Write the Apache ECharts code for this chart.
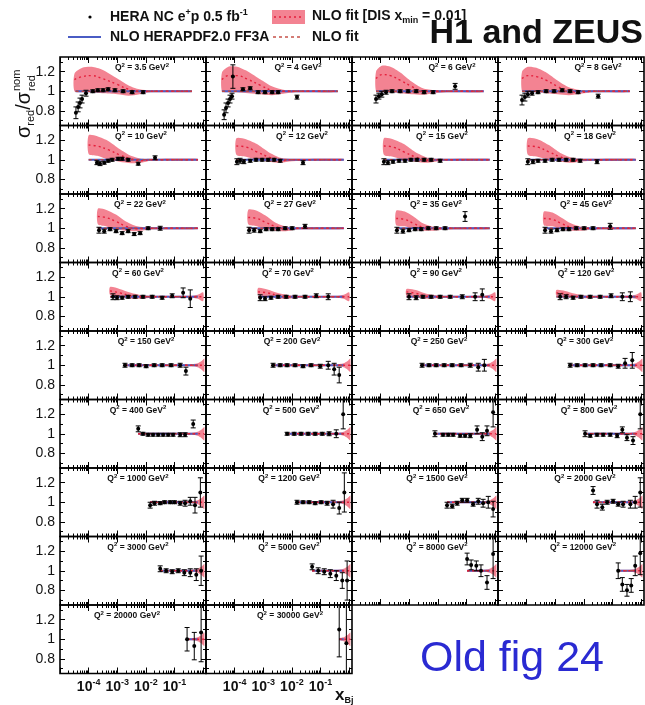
<!DOCTYPE html>
<html><head><meta charset="utf-8">
<script src="https://cdn.jsdelivr.net/npm/echarts@6/dist/echarts.min.js"></script>
<style>html,body{margin:0;padding:0;background:#fff}#c{width:645px;height:705px}</style>
</head><body><div id="c"></div>
<script>
// ---------------- DATA ----------------
const q2Labels = ['3.5','4','6','8','10','12','15','18','22','27','35','45','60','70','90','120',
  '150','200','250','300','400','500','650','800','1000','1200','1500','2000','3000','5000','8000','12000','20000','30000'];

// measured ratio points per panel: [x, ratio, error]
const dataPoints = [
 [[3.6e-5,0.78,0.06],[4.3e-5,0.84,0.05],[5.0e-5,0.88,0.05],[5.9e-5,0.92,0.04],[8.1e-5,0.98,0.03],[1.4e-4,1.0,0.015],[2.1e-4,1.01,0.015],[3.2e-4,1.01,0.015],[4.8e-4,1.02,0.015],[8.3e-4,1.01,0.015],[1.6e-3,1.0,0.015],[3.3e-3,0.99,0.015],[8e-3,0.99,0.015]],
 [[4.3e-5,0.76,0.05],[5.0e-5,0.83,0.05],[5.9e-5,0.88,0.04],[6.9e-5,0.92,0.04],[8.1e-5,0.95,0.03],[8.7e-5,1.15,0.12],[1.95e-4,1.02,0.015],[3.5e-4,1.03,0.015],[6.6e-4,0.99,0.015],[1.15e-3,0.99,0.015],[2.04e-3,0.99,0.015],[3.3e-3,0.99,0.015],[0.0151,0.94,0.02]],
 [[6.9e-5,0.92,0.04],[8.7e-5,0.95,0.03],[1.1e-4,0.97,0.03],[1.55e-4,0.99,0.02],[2.5e-4,1.0,0.015],[4.8e-4,1.0,0.015],[9.1e-4,1.0,0.015],[1.74e-3,1.0,0.015],[3.3e-3,0.99,0.015],[6.8e-3,0.99,0.015],[0.04,1.05,0.03]],
 [[6.9e-5,0.91,0.05],[8.7e-5,0.94,0.04],[1.1e-4,0.97,0.03],[1.55e-4,0.98,0.02],[2.5e-4,0.99,0.015],[4.8e-4,1.0,0.015],[9.1e-4,1.0,0.015],[1.74e-3,1.01,0.015],[3.3e-3,1.0,0.015],[6.3e-3,0.99,0.015],[0.0316,0.95,0.02]],
 [[1.95e-4,0.97,0.02],[2.5e-4,0.96,0.02],[3.5e-4,0.97,0.015],[4.8e-4,0.99,0.015],[6.6e-4,1.0,0.015],[1.07e-3,1.01,0.015],[1.48e-3,1.01,0.015],[2.4e-3,1.0,0.015],[5.4e-3,0.96,0.015],[0.0209,1.02,0.02]],
 [[1.2e-4,0.98,0.03],[1.55e-4,0.99,0.025],[2.1e-4,0.98,0.02],[3.5e-4,0.99,0.015],[5.6e-4,1.0,0.015],[9.1e-4,1.0,0.015],[1.48e-3,1.0,0.015],[2.4e-3,1.0,0.015],[3.9e-3,0.99,0.015],[0.0245,0.97,0.02]],
 [[1.3e-4,0.98,0.03],[1.8e-4,0.97,0.02],[2.7e-4,0.98,0.015],[4.4e-4,0.99,0.015],[7.1e-4,0.99,0.015],[1.15e-3,1.0,0.015],[1.86e-3,1.0,0.015],[3.3e-3,1.0,0.015],[5.8e-3,1.0,0.015],[0.012,0.99,0.015]],
 [[1.1e-4,0.98,0.03],[1.66e-4,0.98,0.02],[2.5e-4,0.99,0.015],[4.4e-4,0.99,0.015],[7.8e-4,1.0,0.015],[1.35e-3,1.0,0.015],[2.4e-3,1.0,0.015],[4.2e-3,1.0,0.015],[7.4e-3,0.99,0.015],[0.0288,0.98,0.02]],
 [[2.3e-4,0.98,0.03],[3.5e-4,0.97,0.02],[5.6e-4,0.99,0.015],[9.1e-4,0.97,0.015],[1.48e-3,0.95,0.015],[2.4e-3,0.97,0.015],[3.9e-3,0.94,0.015],[6.3e-3,0.95,0.015],[0.012,1.0,0.015],[0.0316,1.0,0.02]],
 [[3.2e-4,0.98,0.03],[4.8e-4,0.98,0.02],[7.8e-4,0.97,0.015],[1.26e-3,0.99,0.015],[2.04e-3,0.99,0.015],[3.3e-3,0.99,0.015],[5.8e-3,1.0,0.015],[0.0102,1.0,0.015],[0.0288,1.02,0.02]],
 [[3.7e-4,0.98,0.03],[6e-4,0.97,0.02],[9.8e-4,0.98,0.015],[1.6e-3,0.99,0.015],[2.6e-3,0.99,0.015],[4.6e-3,1.0,0.015],[8.7e-3,1.0,0.015],[0.0178,1.0,0.015],[0.089,1.12,0.05]],
 [[4.4e-4,0.98,0.03],[7.1e-4,0.97,0.02],[1.15e-3,0.98,0.015],[1.86e-3,0.99,0.015],[3e-3,0.99,0.015],[5.4e-3,1.0,0.015],[0.0102,1.0,0.015],[0.0209,1.0,0.015],[0.083,1.02,0.03]],
 [[7.1e-4,1.0,0.03],[9.8e-4,0.99,0.02],[1.48e-3,0.99,0.015],[2.4e-3,1.0,0.015],[4.2e-3,1.0,0.015],[7.9e-3,1.0,0.015],[0.0166,1.0,0.015],[0.037,0.99,0.015],[0.083,1.01,0.02],[0.2,1.04,0.05],[0.355,0.98,0.09]],
 [[7.8e-4,0.99,0.03],[1.15e-3,0.98,0.02],[1.86e-3,0.99,0.015],[3.3e-3,1.0,0.015],[6.3e-3,1.0,0.015],[0.0129,1.0,0.015],[0.0288,1.0,0.015],[0.071,1.01,0.02],[0.186,1.0,0.03]],
 [[9.8e-4,1.0,0.03],[1.74e-3,0.99,0.02],[3e-3,1.0,0.015],[5.8e-3,1.0,0.015],[0.012,1.0,0.015],[0.0269,1.0,0.015],[0.071,1.0,0.02],[0.2,1.0,0.04],[0.355,1.02,0.06]],
 [[1.48e-3,1.0,0.03],[2.4e-3,1.0,0.02],[4.2e-3,0.99,0.015],[7.9e-3,1.0,0.015],[0.0166,1.0,0.015],[0.037,1.0,0.015],[0.089,1.01,0.02],[0.22,1.0,0.04],[0.42,1.0,0.05]],
 [[1.86e-3,1.0,0.02],[3.3e-3,1.0,0.015],[5.8e-3,1.0,0.015],[0.0102,0.99,0.015],[0.0195,1.0,0.015],[0.037,1.0,0.015],[0.076,1.0,0.015],[0.158,1.0,0.02],[0.25,0.94,0.04]],
 [[2.2e-3,1.0,0.02],[3.9e-3,1.0,0.015],[6.8e-3,1.0,0.015],[0.0129,1.0,0.015],[0.0245,0.99,0.015],[0.047,1.0,0.015],[0.098,0.99,0.02],[0.186,1.0,0.04],[0.3,0.96,0.06],[0.45,0.9,0.08]],
 [[2.8e-3,1.0,0.02],[4.9e-3,1.0,0.015],[8.7e-3,1.0,0.015],[0.0166,1.0,0.015],[0.0316,1.0,0.015],[0.065,1.0,0.015],[0.135,1.0,0.02],[0.257,0.98,0.04],[0.42,1.0,0.06]],
 [[3.3e-3,1.0,0.02],[5.8e-3,1.0,0.015],[0.011,1.0,0.015],[0.0209,1.0,0.015],[0.04,1.0,0.015],[0.083,1.0,0.015],[0.158,0.99,0.02],[0.275,1.02,0.05],[0.49,1.05,0.08]],
 [[5.4e-3,1.05,0.03],[7.9e-3,1.0,0.015],[0.012,0.99,0.015],[0.0178,0.99,0.015],[0.0269,0.99,0.015],[0.04,0.99,0.015],[0.06,0.99,0.015],[0.089,0.99,0.015],[0.158,0.99,0.02],[0.234,0.99,0.02],[0.45,1.1,0.04]],
 [[6.8e-3,1.0,0.015],[0.012,1.0,0.015],[0.0209,1.0,0.015],[0.037,1.0,0.015],[0.065,1.0,0.015],[0.115,1.0,0.015],[0.2,1.0,0.02],[0.355,1.0,0.04],[0.62,1.2,0.15]],
 [[7.9e-3,1.0,0.03],[0.0151,0.99,0.015],[0.023,0.99,0.015],[0.034,0.99,0.015],[0.06,0.98,0.015],[0.089,0.98,0.015],[0.135,0.98,0.02],[0.234,1.04,0.04],[0.355,0.97,0.04],[0.52,1.03,0.05],[0.85,1.22,0.15]],
 [[0.011,1.0,0.03],[0.0166,0.98,0.015],[0.0288,0.99,0.015],[0.047,0.99,0.015],[0.083,0.99,0.015],[0.145,0.98,0.02],[0.22,1.04,0.03],[0.32,0.96,0.03],[0.52,0.93,0.04],[0.93,1.2,0.15]],
 [[0.0141,0.97,0.03],[0.02,0.99,0.02],[0.0316,0.99,0.015],[0.045,1.0,0.015],[0.071,1.0,0.015],[0.1,1.0,0.015],[0.158,0.99,0.02],[0.234,0.99,0.03],[0.355,1.01,0.04],[0.52,0.97,0.08],[0.8,1.1,0.15]],
 [[0.0151,1.0,0.02],[0.0245,1.0,0.015],[0.04,1.0,0.015],[0.065,0.99,0.015],[0.105,1.0,0.015],[0.17,0.99,0.02],[0.275,0.98,0.04],[0.45,0.94,0.06],[0.68,1.1,0.2]],
 [[0.0209,0.97,0.03],[0.0316,0.96,0.02],[0.047,0.99,0.02],[0.071,1.02,0.02],[0.105,1.02,0.02],[0.17,0.98,0.02],[0.257,1.01,0.03],[0.38,0.99,0.04],[0.575,1.0,0.06],[0.85,0.93,0.08]],
 [[0.0209,1.12,0.04],[0.0288,0.98,0.04],[0.044,0.95,0.03],[0.065,1.0,0.02],[0.105,1.01,0.02],[0.158,0.98,0.02],[0.234,0.98,0.03],[0.42,0.98,0.04],[0.62,1.0,0.06],[0.93,1.1,0.15]],
 [[0.0316,1.02,0.03],[0.051,1.0,0.02],[0.083,0.99,0.02],[0.135,1.0,0.02],[0.22,0.98,0.03],[0.355,0.98,0.04],[0.575,0.96,0.06],[0.85,1.0,0.15]],
 [[0.051,1.04,0.03],[0.083,1.0,0.03],[0.135,0.99,0.03],[0.22,0.97,0.04],[0.355,0.95,0.05],[0.575,0.9,0.08],[0.85,0.9,0.2]],
 [[0.105,1.12,0.06],[0.145,1.06,0.05],[0.22,1.05,0.05],[0.32,1.0,0.06],[0.52,0.88,0.07],[0.85,1.17,0.25]],
 [[0.158,1.0,0.08],[0.22,0.86,0.07],[0.32,0.8,0.06],[0.45,0.85,0.07],[0.62,1.05,0.1],[0.93,1.18,0.22]],
 [[0.275,1.0,0.12],[0.49,0.93,0.14],[0.85,1.07,0.3]],
 [[0.45,1.1,0.28],[0.8,0.96,0.4]]
];

// NLO fit [DIS xmin = 0.01] band per panel: [x, lower, upper, central]
const fitBand = [
 [[3.2e-5,1.0,1.18,1.12],[6e-5,0.99,1.24,1.15],[1.3e-4,0.99,1.25,1.16],[3e-4,0.98,1.22,1.13],[1e-3,0.97,1.13,1.07],[2.5e-3,0.955,1.06,1.02],[6e-3,0.97,1.02,1.0],[0.015,0.99,1.01,1.0],[0.4,0.99,1.01,1.0]],
 [[3.6e-5,1.0,1.19,1.12],[6e-5,0.99,1.25,1.16],[1.2e-4,0.99,1.25,1.16],[3e-4,0.98,1.2,1.12],[8e-4,0.97,1.12,1.06],[2e-3,0.96,1.05,1.01],[5e-3,0.975,1.015,1.0],[0.015,0.99,1.01,1.0],[0.4,0.99,1.01,1.0]],
 [[6.9e-5,1.0,1.2,1.13],[1.1e-4,0.99,1.26,1.17],[2.2e-4,0.99,1.25,1.16],[5e-4,0.98,1.19,1.11],[1.2e-3,0.97,1.1,1.05],[3e-3,0.965,1.03,1.0],[8e-3,0.98,1.01,1.0],[0.02,0.99,1.01,1.0],[0.4,0.99,1.01,1.0]],
 [[6.9e-5,1.0,1.2,1.13],[1.1e-4,0.99,1.25,1.16],[2.2e-4,0.99,1.24,1.15],[5e-4,0.98,1.19,1.11],[1.2e-3,0.97,1.11,1.05],[3e-3,0.96,1.04,1.0],[8e-3,0.975,1.01,0.99],[0.02,0.99,1.01,1.0],[0.4,0.99,1.01,1.0]],
 [[1e-4,1.06,1.25,1.15],[2e-4,1.04,1.24,1.14],[5e-4,1.0,1.19,1.1],[1.2e-3,0.98,1.11,1.05],[3e-3,0.965,1.04,1.01],[7e-3,0.97,1.01,0.99],[0.015,0.99,1.01,1.0],[0.65,0.99,1.01,1.0]],
 [[1.15e-4,1.05,1.22,1.14],[2.5e-4,1.03,1.21,1.13],[6e-4,1.0,1.16,1.08],[1.5e-3,0.98,1.08,1.03],[4e-3,0.97,1.02,0.99],[0.01,0.985,1.01,1.0],[0.65,0.99,1.01,1.0]],
 [[1.3e-4,1.05,1.22,1.14],[2.7e-4,1.03,1.21,1.13],[6.5e-4,1.0,1.16,1.08],[1.6e-3,0.98,1.08,1.03],[4.5e-3,0.97,1.02,0.99],[0.011,0.985,1.01,1.0],[0.65,0.99,1.01,1.0]],
 [[1.1e-4,1.05,1.22,1.14],[2.4e-4,1.03,1.21,1.13],[6e-4,1.0,1.15,1.08],[1.5e-3,0.98,1.07,1.03],[4e-3,0.97,1.02,0.99],[0.01,0.985,1.01,1.0],[0.65,0.99,1.01,1.0]],
 [[2.1e-4,1.04,1.2,1.12],[4e-4,1.02,1.19,1.11],[9e-4,0.99,1.14,1.07],[2e-3,0.975,1.07,1.02],[5e-3,0.97,1.02,0.995],[0.012,0.985,1.01,1.0],[0.65,0.99,1.01,1.0]],
 [[3e-4,1.04,1.19,1.11],[6e-4,1.02,1.18,1.1],[1.2e-3,0.99,1.13,1.06],[2.6e-3,0.975,1.06,1.02],[6e-3,0.97,1.02,0.995],[0.014,0.985,1.01,1.0],[0.65,0.99,1.01,1.0]],
 [[3.5e-4,1.03,1.18,1.1],[7e-4,1.02,1.17,1.09],[1.4e-3,0.99,1.12,1.05],[3e-3,0.975,1.05,1.01],[7e-3,0.975,1.015,0.995],[0.015,0.985,1.01,1.0],[0.65,0.99,1.01,1.0]],
 [[4e-4,1.03,1.17,1.1],[8e-4,1.02,1.16,1.09],[1.6e-3,0.99,1.11,1.05],[3.5e-3,0.975,1.05,1.01],[8e-3,0.975,1.015,0.995],[0.017,0.985,1.01,1.0],[0.65,0.99,1.01,1.0]],
 [[5.6e-4,1.02,1.1,1.06],[1.2e-3,1.0,1.08,1.04],[3e-3,0.98,1.04,1.01],[7e-3,0.98,1.015,1.0],[0.015,0.99,1.01,1.0],[0.35,0.99,1.01,1.0],[0.65,0.98,1.02,1.0],[1.0,0.955,1.045,1.0]],
 [[6.6e-4,1.02,1.09,1.05],[1.4e-3,1.0,1.075,1.04],[3.5e-3,0.98,1.035,1.01],[8e-3,0.98,1.015,1.0],[0.017,0.99,1.01,1.0],[0.35,0.99,1.01,1.0],[0.65,0.98,1.02,1.0],[1.0,0.955,1.045,1.0]],
 [[8e-4,1.01,1.08,1.05],[1.7e-3,1.0,1.07,1.035],[4e-3,0.98,1.03,1.005],[9e-3,0.985,1.015,1.0],[0.02,0.99,1.01,1.0],[0.35,0.99,1.01,1.0],[0.65,0.98,1.02,1.0],[1.0,0.955,1.045,1.0]],
 [[1.1e-3,1.01,1.07,1.04],[2.2e-3,1.0,1.06,1.03],[5e-3,0.985,1.03,1.005],[0.011,0.985,1.012,1.0],[0.025,0.99,1.01,1.0],[0.35,0.99,1.01,1.0],[0.65,0.98,1.02,1.0],[1.0,0.955,1.045,1.0]],
 [[1.86e-3,0.99,1.01,1],[0.4,0.99,1.01,1],[0.65,0.98,1.02,1],[0.85,0.96,1.04,1],[1.1,0.93,1.07,1]],
 [[2.2e-3,0.99,1.01,1],[0.4,0.99,1.01,1],[0.65,0.98,1.02,1],[0.85,0.96,1.04,1],[1.1,0.93,1.07,1]],
 [[2.8e-3,0.99,1.01,1],[0.4,0.99,1.01,1],[0.65,0.98,1.02,1],[0.85,0.96,1.04,1],[1.1,0.93,1.07,1]],
 [[3.3e-3,0.99,1.01,1],[0.4,0.99,1.01,1],[0.65,0.98,1.02,1],[0.85,0.96,1.04,1],[1.1,0.93,1.07,1]],
 [[5.4e-3,0.99,1.01,1],[0.4,0.99,1.01,1],[0.65,0.98,1.02,1],[0.85,0.96,1.04,1],[1.1,0.93,1.07,1]],
 [[6.8e-3,0.99,1.01,1],[0.4,0.99,1.01,1],[0.65,0.98,1.02,1],[0.85,0.96,1.04,1],[1.1,0.93,1.07,1]],
 [[7.9e-3,0.99,1.01,1],[0.4,0.99,1.01,1],[0.65,0.98,1.02,1],[0.85,0.96,1.04,1],[1.1,0.93,1.07,1]],
 [[0.011,0.99,1.01,1],[0.4,0.99,1.01,1],[0.65,0.98,1.02,1],[0.85,0.96,1.04,1],[1.1,0.93,1.07,1]],
 [[0.0141,0.99,1.01,1],[0.4,0.99,1.01,1],[0.65,0.98,1.02,1],[0.85,0.96,1.04,1],[1.1,0.93,1.07,1]],
 [[0.0151,0.99,1.01,1],[0.4,0.99,1.01,1],[0.65,0.98,1.02,1],[0.85,0.96,1.04,1],[1.1,0.93,1.07,1]],
 [[0.0209,0.99,1.01,1],[0.4,0.99,1.01,1],[0.65,0.98,1.02,1],[0.85,0.96,1.04,1],[1.1,0.93,1.07,1]],
 [[0.0209,0.99,1.01,1],[0.4,0.99,1.01,1],[0.65,0.98,1.02,1],[0.85,0.96,1.04,1],[1.1,0.93,1.07,1]],
 [[0.0316,0.99,1.01,1],[0.4,0.99,1.01,1],[0.65,0.98,1.02,1],[0.85,0.96,1.04,1],[1.1,0.93,1.07,1]],
 [[0.051,0.99,1.01,1],[0.4,0.99,1.01,1],[0.65,0.98,1.02,1],[0.85,0.96,1.04,1],[1.1,0.93,1.07,1]],
 [[0.105,0.99,1.01,1],[0.4,0.99,1.01,1],[0.65,0.98,1.02,1],[0.85,0.96,1.04,1],[1.1,0.93,1.07,1]],
 [[0.158,0.99,1.01,1],[0.4,0.99,1.01,1],[0.65,0.98,1.02,1],[0.85,0.96,1.04,1],[1.1,0.93,1.07,1]],
 [[0.275,0.99,1.01,1],[0.4,0.99,1.01,1],[0.65,0.98,1.02,1],[0.85,0.96,1.04,1],[1.1,0.93,1.07,1]],
 [[0.45,0.99,1.01,1],[0.65,0.98,1.02,1],[0.85,0.96,1.04,1],[1.1,0.93,1.07,1]]
];

// x-range of the NLO HERAPDF2.0 FF3A and NLO fit curves (ratio 1)
const lineRange = [
 [3.5e-5,0.4],[3.6e-5,0.4],[6.9e-5,0.4],[6.9e-5,0.4],
 [1e-4,0.65],[1.15e-4,0.65],[1.3e-4,0.65],[1.1e-4,0.65],
 [2.1e-4,0.65],[3e-4,0.65],[3.5e-4,0.65],[4e-4,0.65],
 [5.6e-4,0.65],[6.6e-4,0.65],[8e-4,0.65],[1.1e-3,0.65],
 [1.86e-3,0.65],[2.2e-3,0.65],[2.8e-3,0.65],[3.3e-3,0.65],
 [5.4e-3,0.65],[6.8e-3,0.65],[7.9e-3,0.65],[0.011,0.65],
 [0.0141,0.65],[0.0151,0.65],[0.0209,0.65],[0.0209,0.65],
 [0.0316,0.65],[0.051,0.65],[0.105,0.65],[0.158,0.65],
 [0.275,0.65],[0.45,0.65]
];

const xMajorTicks = [1e-5,1e-4,1e-3,1e-2,1e-1,1];
const xLabelValues = [1e-4,1e-3,1e-2,1e-1];
const yMajorTicks = [0.8,1.0,1.2];
const yMinorTicks = [0.7,0.9,1.1,1.3];
const yLabelValues = [0.8,1,1.2];

// ---------------- LAYOUT / STYLE ----------------
const L0 = 60, T0 = 57, CW = 146, CH = 68.5;
const XMIN = 1e-5, XMAX = 1.2589;
const labelDx = [82,92,100,100, 81,96,90,92, 80,84,84,88, 78,82,84,88, 86,86,87,87, 78,85,89,91, 78,83,85,87, 78,83,85,85, 67,84];
const BAND = '#f38392', BAND_LINE = '#e5203c', BLUE = '#4a5cc4', FITC = '#c2453c';
const FONT = 'Liberation Sans';

const xMinorTicks = [];
for (let d = -5; d <= 0; d++) for (let k = 2; k <= 9; k++) { const v = k * Math.pow(10, d); if (v < XMAX) xMinorTicks.push(v); }

const grids = [], xAxes = [], yAxes = [], series = [], graphics = [];

function errRender(params, api) {
  const x = api.value(0), y = api.value(1), e = api.value(2);
  const p = api.coord([x, y]), pt = api.coord([x, y + e]), pb = api.coord([x, y - e]);
  const cap = 2.5, st = {stroke: '#000', lineWidth: 1};
  return {type: 'group', children: [
    {type: 'line', shape: {x1: p[0], y1: pt[1], x2: p[0], y2: pb[1]}, style: st},
    {type: 'line', shape: {x1: p[0] - cap, y1: pt[1], x2: p[0] + cap, y2: pt[1]}, style: st},
    {type: 'line', shape: {x1: p[0] - cap, y1: pb[1], x2: p[0] + cap, y2: pb[1]}, style: st},
    {type: 'circle', shape: {cx: p[0], cy: p[1], r: 2}, style: {fill: '#000'}}
  ]};
}

q2Labels.forEach((q, i) => {
  const r = Math.floor(i / 4), c = i % 4;
  const left = L0 + c * CW, top = T0 + r * CH;
  grids.push({left, top, width: CW, height: CH, show: true, borderColor: '#000', borderWidth: 1.6,
    backgroundColor: 'transparent', containLabel: false, outerBoundsMode: 'none'});
  const showX = i >= 32, showY = c === 0;
  const xb = {type: 'log', logBase: 10, gridIndex: i, min: XMIN, max: XMAX,
    axisLine: {show: false}, splitLine: {show: false}};
  const tk = (vals, len) => ({show: true, inside: true, length: len, customValues: vals, lineStyle: {color: '#000', width: 1}});
  xAxes.push(Object.assign({}, xb, {position: 'bottom', axisTick: tk(xMajorTicks, 6),
    axisLabel: {show: showX, customValues: xLabelValues, margin: 5, color: '#000',
      formatter: v => '{b|10}{s|' + Math.round(Math.log10(v)) + '}',
      rich: {b: {fontSize: 14, fontFamily: FONT, fontWeight: 'bold', color: '#111', lineHeight: 18},
             s: {fontSize: 9, fontFamily: FONT, fontWeight: 'bold', color: '#111', lineHeight: 10, verticalAlign: 'top'}}}}));
  xAxes.push(Object.assign({}, xb, {position: 'top', axisTick: tk(xMajorTicks, 6), axisLabel: {show: false}}));
  xAxes.push(Object.assign({}, xb, {position: 'bottom', axisTick: tk(xMinorTicks, 3), axisLabel: {show: false}}));
  xAxes.push(Object.assign({}, xb, {position: 'top', axisTick: tk(xMinorTicks, 3), axisLabel: {show: false}}));
  const yb = {type: 'value', gridIndex: i, min: 0.65, max: 1.35, axisLine: {show: false}, splitLine: {show: false}};
  yAxes.push(Object.assign({}, yb, {position: 'left', axisTick: tk(yMajorTicks, 5),
    axisLabel: {show: showY, customValues: yLabelValues, margin: 5, fontSize: 14, fontFamily: FONT, color: '#111',
      formatter: v => (Math.abs(v - 1) < 1e-9 ? '1' : v.toFixed(1))}}));
  yAxes.push(Object.assign({}, yb, {position: 'right', axisTick: tk(yMajorTicks, 5), axisLabel: {show: false}}));
  yAxes.push(Object.assign({}, yb, {position: 'left', axisTick: tk(yMinorTicks, 3), axisLabel: {show: false}}));
  yAxes.push(Object.assign({}, yb, {position: 'right', axisTick: tk(yMinorTicks, 3), axisLabel: {show: false}}));

  const ax = {xAxisIndex: 4 * i, yAxisIndex: 4 * i};
  const band = fitBand[i];
  series.push(Object.assign({type: 'custom', clip: true, z: 1, silent: true, data: band,
    renderItem: (params, api) => {
      if (params.dataIndex !== 0) return null;
      const pts = [];
      band.forEach(d => pts.push(api.coord([d[0], d[2]])));
      for (let k = band.length - 1; k >= 0; k--) pts.push(api.coord([band[k][0], band[k][1]]));
      return {type: 'polygon', shape: {points: pts, smooth: r < 4 ? 0.25 : 0.1}, style: {fill: BAND}};
    }}, ax));
  const lr = lineRange[i];
  series.push(Object.assign({type: 'line', z: 2, silent: true, symbol: 'none', data: [[lr[0], 1], [lr[1], 1]],
    lineStyle: {color: BLUE, width: 2.2}}, ax));
  series.push(Object.assign({type: 'line', z: 3, silent: true, symbol: 'none', data: [[lr[0], 1], [lr[1], 1]],
    lineStyle: {color: FITC, width: 1.4, type: [3, 3]}}, ax));
  series.push(Object.assign({type: 'line', z: 3, silent: true, symbol: 'none', smooth: 0.4,
    data: band.map(d => [d[0], d[3]]), lineStyle: {color: BAND_LINE, width: 1.4, type: [2, 3]}}, ax));
  series.push(Object.assign({type: 'custom', clip: true, z: 5, silent: true, data: dataPoints[i], renderItem: errRender}, ax));

  graphics.push({type: 'text', x: left + labelDx[i], y: top + 11, z: 10, silent: true,
    style: {text: '{t|Q}{s|2}{t| = ' + q + ' GeV}{s|2}', align: 'center', verticalAlign: 'middle',
      rich: {t: {fontSize: 8.5, fontWeight: 'bold', fontFamily: FONT, fill: '#111', lineHeight: 12},
             s: {fontSize: 6, fontWeight: 'bold', fontFamily: FONT, fill: '#111', lineHeight: 7, verticalAlign: 'top'}}}});
});

// legend & annotations
const legRich = {m: {fontSize: 14, fontWeight: 'bold', fontFamily: FONT, fill: '#111', lineHeight: 18},
  sp: {fontSize: 9, fontWeight: 'bold', fontFamily: FONT, fill: '#111', lineHeight: 10, verticalAlign: 'top'},
  sb: {fontSize: 9, fontWeight: 'bold', fontFamily: FONT, fill: '#111', lineHeight: 10, verticalAlign: 'bottom'}};
graphics.push(
  {type: 'circle', shape: {cx: 90, cy: 17, r: 1.6}, style: {fill: '#000'}},
  {type: 'text', x: 110, y: 17, style: {text: '{m|HERA NC e}{sp|+}{m|p 0.5 fb}{sp|-1}', verticalAlign: 'middle', rich: legRich}},
  {type: 'rect', shape: {x: 272, y: 10, width: 33, height: 14}, style: {fill: BAND}},
  {type: 'line', shape: {x1: 274, y1: 17, x2: 304, y2: 17}, style: {stroke: BAND_LINE, lineWidth: 1.4, lineDash: [2, 3]}},
  {type: 'text', x: 312, y: 16, z: 2, style: {text: '{m|NLO fit [DIS x}{sb|min}{m| = 0.01]}', verticalAlign: 'middle', rich: legRich}},
  {type: 'line', shape: {x1: 68, y1: 37, x2: 101, y2: 37}, style: {stroke: BLUE, lineWidth: 2}},
  {type: 'text', x: 110, y: 37, style: {text: '{m|NLO HERAPDF2.0 FF3A}', verticalAlign: 'middle', rich: legRich}},
  {type: 'rect', shape: {x: 270, y: 28, width: 38, height: 18}, style: {fill: '#fff'}, z: 5},
  {type: 'line', shape: {x1: 273, y1: 37, x2: 303, y2: 37}, z: 6, style: {stroke: FITC, lineWidth: 1.4, lineDash: [3, 3]}},
  {type: 'text', x: 312, y: 37, style: {text: '{m|NLO fit}', verticalAlign: 'middle', rich: legRich}},
  {type: 'text', x: 643, y: 34, z: 1, style: {text: 'H1 and ZEUS', align: 'right', verticalAlign: 'middle',
    font: 'bold 34px "Liberation Sans"', fill: '#111'}},
  {type: 'text', x: 512, y: 659, style: {text: 'Old fig 24', align: 'center', verticalAlign: 'middle',
    font: '43px "Liberation Sans"', fill: '#2a2ad2'}},
  {type: 'text', x: 335, y: 695, style: {text: '{x|x}{b|Bj}', verticalAlign: 'middle',
    rich: {x: {fontSize: 17, fontWeight: 'bold', fontFamily: FONT, fill: '#111', lineHeight: 20},
           b: {fontSize: 9, fontWeight: 'bold', fontFamily: FONT, fill: '#111', lineHeight: 10, verticalAlign: 'bottom'}}}},
  {type: 'group', x: 24, y: 100, rotation: Math.PI / 2, children: [
    {type: 'text', x: -38, y: 0, style: {text: '{m|σ}{sb|red}{m|/σ}', verticalAlign: 'middle',
      rich: {m: {fontSize: 20, fontFamily: FONT, fill: '#111', lineHeight: 24},
             sb: {fontSize: 11, fontFamily: FONT, fill: '#111', lineHeight: 12, verticalAlign: 'bottom'}}}},
    {type: 'text', x: 9, y: -7, style: {text: 'nom', verticalAlign: 'middle', font: '11px "Liberation Sans"', fill: '#111'}},
    {type: 'text', x: 9, y: 8, style: {text: 'red', verticalAlign: 'middle', font: '11px "Liberation Sans"', fill: '#111'}}
  ]}
);

const chart = echarts.init(document.getElementById('c'), null, {renderer: 'canvas'});
chart.setOption({
  animation: false,
  backgroundColor: '#fff',
  textStyle: {fontFamily: FONT},
  grid: grids, xAxis: xAxes, yAxis: yAxes, series: series, graphic: graphics
});
</script></body></html>
